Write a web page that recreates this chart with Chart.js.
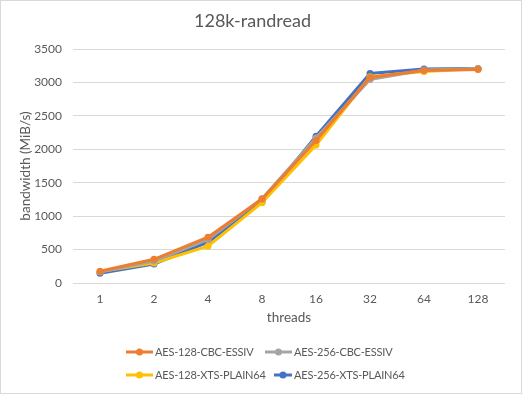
<!DOCTYPE html>
<html>
<head>
<meta charset="utf-8">
<script src="https://cdn.jsdelivr.net/npm/chart.js@4/dist/chart.umd.min.js"></script>
<style>
html,body{margin:0;padding:0;background:#fff;}
canvas{display:block;}
</style>
</head>
<body>
<canvas id="c" width="522" height="394"></canvas>
<script>
const categories = ['1', '2', '4', '8', '16', '32', '64', '128'];
const aes128cbc = [175, 355, 685, 1255, 2130, 3075, 3180, 3195];
const aes256cbc = [165, 330, 650, 1260, 2170, 3045, 3185, 3205];
const aes128xts = [170, 300, 550, 1200, 2065, 3085, 3165, 3205];
const aes256xts = [145, 285, 610, 1210, 2195, 3135, 3200, 3210];
const seriesNames = ['AES-128-CBC-ESSIV', 'AES-256-CBC-ESSIV', 'AES-128-XTS-PLAIN64', 'AES-256-XTS-PLAIN64'];
const seriesColors = ['#ED7D31', '#A5A5A5', '#FFC000', '#4472C4'];
const yTicks = [0, 500, 1000, 1500, 2000, 2500, 3000, 3500];

const FONT = 'Lato, "Liberation Sans", sans-serif';
const TXT = '#595959';

const frame = {
  id: 'frame',
  beforeDraw(chart) {
    const ctx = chart.ctx;
    ctx.save();
    ctx.fillStyle = '#fff';
    ctx.fillRect(0, 0, chart.width, chart.height);
    ctx.strokeStyle = '#d9d9d9';
    ctx.lineWidth = 1;
    ctx.strokeRect(0.5, 0.5, chart.width - 1, chart.height - 1);
    ctx.restore();
  }
};

const legendGrid = {
  id: 'legendGrid',
  afterDraw(chart) {
    const ctx = chart.ctx;
    const items = chart.data.datasets.map(d => ({ text: d.label, color: d.borderColor }));
    const rowsY = [352, 375];
    const colLine = [[126, 153], [265, 292]];
    ctx.save();
    ctx.font = '11px ' + FONT;
    if ('letterSpacing' in ctx) ctx.letterSpacing = '-0.2px';
    ctx.textBaseline = 'middle';
    items.forEach((it, i) => {
      const r = Math.floor(i / 2), c = i % 2;
      const y = rowsY[r];
      let x0 = colLine[c][0], x1 = colLine[c][1];
      if (i === 3) x0 = 274;
      ctx.strokeStyle = it.color;
      ctx.lineWidth = 3;
      ctx.lineCap = 'butt';
      ctx.beginPath();
      ctx.moveTo(x0, y);
      ctx.lineTo(x1, y);
      ctx.stroke();
      ctx.fillStyle = it.color;
      ctx.beginPath();
      ctx.arc((x0 + x1) / 2, y, 3.5, 0, Math.PI * 2);
      ctx.fill();
      ctx.fillStyle = TXT;
      ctx.fillText(it.text, x1 + 2, y);
    });
    ctx.restore();
  }
};

const dataSeries = [aes128cbc, aes256cbc, aes128xts, aes256xts];
const datasets = dataSeries.map((vals, i) => ({
  label: seriesNames[i],
  data: vals,
  borderColor: seriesColors[i],
  backgroundColor: seriesColors[i],
  borderWidth: 3,
  pointRadius: 3.5,
  pointHoverRadius: 3.5,
  pointBorderWidth: 0,
  tension: 0,
  fill: false
}));

new Chart(document.getElementById('c'), {
  type: 'line',
  data: { labels: categories, datasets },
  options: {
    responsive: false,
    animation: false,
    layout: { padding: { left: 0, right: 17, top: 0, bottom: 63 } },
    plugins: {
      legend: { display: false },
      tooltip: { enabled: false },
      title: {
        display: true,
        text: '128k-randread',
        color: TXT,
        font: { family: FONT, size: 18, weight: 'normal' },
        padding: { top: 10, bottom: 17.4 }
      }
    },
    scales: {
      x: {
        offset: true,
        grid: { display: false, drawTicks: false },
        border: { display: false },
        ticks: { color: TXT, font: { family: FONT, size: 12 }, padding: 9, maxRotation: 0 },
        title: { display: true, text: 'threads', color: TXT, font: { family: FONT, size: 13.5 }, padding: { top: 0, bottom: 5 } },
        afterFit(s) { s.height = 48; }
      },
      y: {
        min: 0,
        max: 3500,
        afterBuildTicks(s) { s.ticks = yTicks.map(v => ({ value: v })); },
        grid: { color: '#d9d9d9', lineWidth: 1, drawTicks: false },
        border: { display: false },
        ticks: { color: TXT, font: { family: FONT, size: 12 }, padding: 11, callback: v => String(v) },
        title: { display: true, text: 'bandwidth (MiB/s)', color: TXT, font: { family: FONT, size: 13.5 }, padding: { top: 18, bottom: 0 } },
        afterFit(s) { s.width = 73; }
      }
    }
  },
  plugins: [frame, legendGrid]
});
</script>
</body>
</html>
